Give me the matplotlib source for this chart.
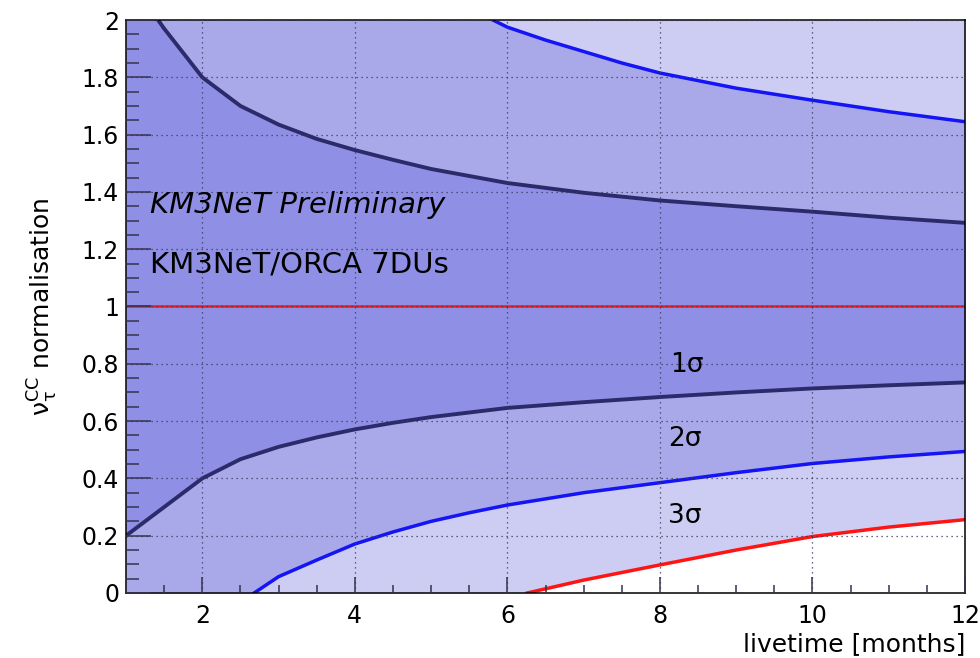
import matplotlib
matplotlib.use("Agg")
import matplotlib.pyplot as plt
import numpy as np

plt.rcParams['font.family'] = ['DejaVu Sans']
plt.rcParams['mathtext.fontset'] = 'dejavusans'

# contour curves (livetime in months, normalisation)
x_1s_up = [1.42, 1.5, 2.0, 2.5, 3.0, 3.5, 4.0, 4.5, 5.0, 6.0, 7.0, 8.0, 9.0, 10.0, 11.0, 12.0]
y_1s_up = [2.0, 1.97, 1.80, 1.70, 1.635, 1.585, 1.546, 1.512, 1.48, 1.431, 1.397, 1.37, 1.35, 1.331, 1.31, 1.292]

x_1s_lo = [1.0, 1.5, 2.0, 2.5, 3.0, 3.5, 4.0, 4.5, 5.0, 6.0, 7.0, 8.0, 9.0, 10.0, 11.0, 12.0]
y_1s_lo = [0.20, 0.30, 0.40, 0.467, 0.51, 0.543, 0.571, 0.594, 0.614, 0.646, 0.666, 0.684, 0.70, 0.714, 0.725, 0.735]

x_2s_up = [5.81, 6.0, 6.5, 7.0, 7.5, 8.0, 9.0, 10.0, 11.0, 12.0]
y_2s_up = [2.0, 1.975, 1.93, 1.89, 1.85, 1.815, 1.762, 1.72, 1.68, 1.645]

x_2s_lo = [2.68, 3.0, 3.5, 4.0, 4.5, 5.0, 5.5, 6.0, 7.0, 8.0, 9.0, 10.0, 11.0, 12.0]
y_2s_lo = [0.0, 0.057, 0.115, 0.171, 0.213, 0.25, 0.28, 0.307, 0.35, 0.385, 0.42, 0.452, 0.475, 0.494]

x_3s_lo = [6.26, 7.0, 8.0, 9.0, 10.0, 11.0, 12.0]
y_3s_lo = [0.0, 0.045, 0.098, 0.15, 0.197, 0.23, 0.256]

nominal = 1.0

c_1s = '#8f8fe5'
c_2s = '#a9a9ea'
c_3s = '#cdcdf3'

fig = plt.figure(figsize=(9.8, 6.58), dpi=100)
ax = fig.add_axes([0.1286, 0.0988, 0.8561, 0.8708])

grid = np.unique(np.concatenate([x_1s_up, x_1s_lo, x_2s_up, x_2s_lo, x_3s_lo, [1.0, 12.0]]))
grid = np.union1d(grid, np.linspace(1, 12, 221))

up1 = np.interp(grid, x_1s_up, y_1s_up, left=2.0)
lo1 = np.interp(grid, x_1s_lo, y_1s_lo)
up2 = np.interp(grid, x_2s_up, y_2s_up, left=2.0)
lo2 = np.interp(grid, x_2s_lo, y_2s_lo, left=0.0)
lo3 = np.interp(grid, x_3s_lo, y_3s_lo, left=0.0)

ax.fill_between(grid, lo3, 2.0, color=c_3s, lw=0)
ax.fill_between(grid, lo2, up2, color=c_2s, lw=0)
ax.fill_between(grid, lo1, up1, color=c_1s, lw=0)

ax.plot(x_1s_up, y_1s_up, color='#2b2b6b', lw=2.8, solid_joinstyle='round')
ax.plot(x_1s_lo, y_1s_lo, color='#2b2b6b', lw=2.8, solid_joinstyle='round')
ax.plot(x_2s_up, y_2s_up, color='#1414f5', lw=2.5, solid_joinstyle='round')
ax.plot(x_2s_lo, y_2s_lo, color='#1414f5', lw=2.5, solid_joinstyle='round')
ax.plot(x_3s_lo, y_3s_lo, color='#ff1414', lw=2.5, solid_joinstyle='round')
ax.axhline(nominal, color='#ff1414', lw=1.8)

ax.set_xlim(1, 12)
ax.set_ylim(0, 2)
ax.set_xticks([2, 4, 6, 8, 10, 12])
ax.set_xticks(np.arange(1, 12.01, 0.5), minor=True)
ax.set_yticks(np.arange(0, 2.01, 0.2))
ax.set_yticks(np.arange(0, 2.01, 0.05), minor=True)
ax.set_xticklabels(['2', '4', '6', '8', '10', '12'])
ax.set_yticklabels(['0', '0.2', '0.4', '0.6', '0.8', '1', '1.2', '1.4', '1.6', '1.8', '2'])

ax.set_axisbelow(False)
ax.grid(True, which='major', color='#3a3a5a', lw=0.9, ls=(0, (1, 3)))
ax.tick_params(axis='both', which='both', direction='in', top=False, right=False,
               color='#33334d', labelsize=17)
ax.tick_params(axis='y', which='major', length=18, width=1.1, pad=5)
ax.tick_params(axis='y', which='minor', length=9, width=1.1)
ax.tick_params(axis='x', which='major', length=11.5, width=1.1, pad=8)
ax.tick_params(axis='x', which='minor', length=5.5, width=1.1)
for s in ax.spines.values():
    s.set_linewidth(1.1)
    s.set_color('black')

ax.set_xlabel('livetime [months]', fontsize=18, loc='right', labelpad=3)
ax.set_ylabel(r'$\mathregular{\nu_{\tau}^{CC}}$ normalisation', fontsize=18)
ax.yaxis.set_label_coords(-0.079, 0.5)

ax.text(1.315, 1.326, 'KM3NeT Preliminary', fontsize=21, style='italic')
ax.text(1.315, 1.12, 'KM3NeT/ORCA 7DUs', fontsize=21)
ax.text(8.13, 0.771, '1σ', fontsize=19)
ax.text(8.11, 0.513, '2σ', fontsize=19)
ax.text(8.11, 0.244, '3σ', fontsize=19)

fig.savefig('out.png', dpi=100)
